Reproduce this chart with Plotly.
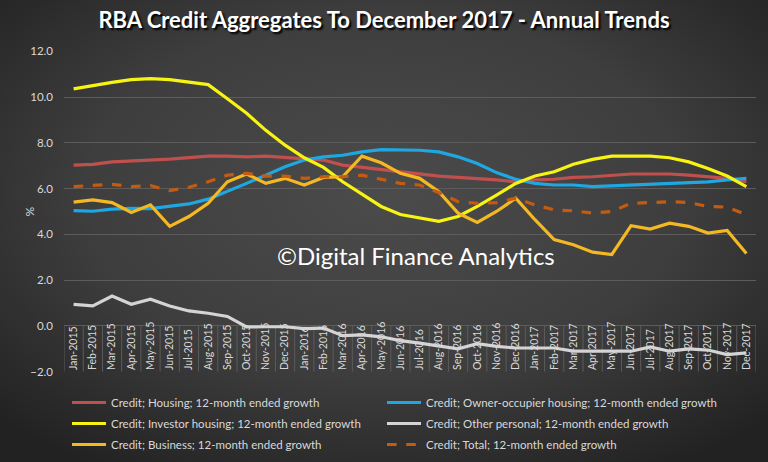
import base64
import plotly.graph_objects as go

# ---- data (12-month ended growth, %) ---------------------------------------
MONTHS = ["Jan", "Feb", "Mar", "Apr", "May", "Jun",
          "Jul", "Aug", "Sep", "Oct", "Nov", "Dec"]
CATEGORIES = [f"{m}-{y}" for y in (2015, 2016, 2017) for m in MONTHS]

HOUSING = [7.03, 7.06, 7.17, 7.20, 7.25, 7.29, 7.36, 7.42, 7.42, 7.39, 7.42, 7.36,
           7.28, 7.25, 7.03, 6.93, 6.84, 6.74, 6.64, 6.55, 6.49, 6.45, 6.38, 6.30,
           6.38, 6.41, 6.49, 6.52, 6.59, 6.64, 6.64, 6.64, 6.59, 6.52, 6.45, 6.30]
OWNER_OCC = [5.04, 5.01, 5.10, 5.14, 5.13, 5.22, 5.33, 5.54, 5.87, 6.23, 6.59, 6.96,
             7.25, 7.39, 7.46, 7.61, 7.71, 7.71, 7.68, 7.61, 7.39, 7.10, 6.70, 6.41,
             6.23, 6.16, 6.16, 6.09, 6.12, 6.16, 6.20, 6.23, 6.26, 6.30, 6.38, 6.45]
INVESTOR = [10.36, 10.51, 10.65, 10.77, 10.81, 10.77, 10.65, 10.55, 9.93, 9.30, 8.55, 7.90,
            7.35, 6.93, 6.30, 5.75, 5.22, 4.87, 4.72, 4.57, 4.78, 5.22, 5.72, 6.23,
            6.55, 6.74, 7.07, 7.28, 7.42, 7.42, 7.42, 7.35, 7.17, 6.88, 6.55, 6.09]
OTHER_PERSONAL = [0.94, 0.87, 1.30, 0.94, 1.16, 0.87, 0.65, 0.55, 0.41, -0.05, -0.04, -0.04,
                  -0.12, -0.10, -0.43, -0.40, -0.48, -0.65, -0.76, -0.87, -1.01, -0.78, -0.90, -0.97,
                  -0.97, -0.97, -1.11, -1.11, -1.11, -1.11, -0.92, -1.11, -1.01, -1.06, -1.26, -1.18]
BUSINESS = [5.41, 5.51, 5.39, 4.96, 5.29, 4.35, 4.78, 5.36, 6.30, 6.64, 6.23, 6.45,
            6.16, 6.49, 6.52, 7.42, 7.13, 6.67, 6.45, 5.87, 4.93, 4.52, 5.00, 5.58,
            4.64, 3.77, 3.55, 3.22, 3.12, 4.38, 4.23, 4.49, 4.35, 4.06, 4.17, 3.16]
TOTAL = [6.09, 6.13, 6.19, 6.09, 6.13, 5.91, 6.06, 6.30, 6.59, 6.67, 6.55, 6.55,
         6.45, 6.52, 6.52, 6.59, 6.41, 6.23, 6.16, 5.83, 5.43, 5.36, 5.39, 5.58,
         5.29, 5.07, 5.03, 4.93, 5.00, 5.36, 5.39, 5.43, 5.39, 5.22, 5.19, 4.86]

Y_TICKS = [-2, 0, 2, 4, 6, 8, 10, 12]

# name, values, colour, dash, legend column
SERIES = [
    ("Credit; Housing; 12-month ended growth", HOUSING, "#c0504d", "solid", "legend"),
    ("Credit; Owner-occupier housing; 12-month ended growth", OWNER_OCC, "#1fa7e1", "solid", "legend2"),
    ("Credit; Investor housing; 12-month ended growth", INVESTOR, "#f7f313", "solid", "legend"),
    ("Credit; Other personal; 12-month ended growth", OTHER_PERSONAL, "#d4d4d4", "solid", "legend2"),
    ("Credit; Business; 12-month ended growth", BUSINESS, "#f4b822", "solid", "legend"),
    ("Credit; Total; 12-month ended growth", TOTAL, "#c55a11", "dash", "legend2"),
]

GRID = "#5c5c5c"
TEXT = "#d9d9d9"
FONT = "Lato, 'Open Sans', sans-serif"

# ---- background vignette ------------------------------------------------------
svg = (
    '<svg xmlns="http://www.w3.org/2000/svg" width="768" height="462">'
    '<defs><radialGradient id="g" cx="50%" cy="42%" r="70%">'
    '<stop offset="0%" stop-color="#4b4b4b"/>'
    '<stop offset="55%" stop-color="#3e3e3e"/>'
    '<stop offset="100%" stop-color="#222222"/>'
    '</radialGradient></defs>'
    '<rect width="768" height="462" fill="url(#g)"/></svg>'
)
bg_src = "data:image/svg+xml;base64," + base64.b64encode(svg.encode()).decode()

W, H = 768, 462
ML, MR, MT, MB = 64, 12, 51, 90
PW, PH = W - ML - MR, H - MT - MB

fig = go.Figure()

for i, (name, vals, color, dash, leg) in enumerate(SERIES):
    fig.add_trace(go.Scatter(
        x=CATEGORIES, y=vals, name=name, mode="lines",
        line=dict(color=color, width=3.2, dash=dash),
        legend=leg, legendgroup=f"g{i}",
    ))

# faint separators around the category labels (between 0 and -2)
for k in range(len(CATEGORIES) + 1):
    fig.add_shape(type="line", xref="x", yref="y",
                  x0=k - 0.5, x1=k - 0.5, y0=Y_TICKS[0], y1=0,
                  line=dict(color=GRID, width=1), layer="below")

fig.add_annotation(text="©Digital Finance Analytics", xref="paper", yref="paper",
                   x=(416 - ML) / PW, y=(MT + PH - 272) / PH, showarrow=False,
                   font=dict(family=FONT, size=24, color="#ffffff"))

# y-axis title
fig.add_annotation(text="%", xref="paper", yref="paper",
                   x=(20 - ML) / PW, y=(MT + PH - 212) / PH, showarrow=False,
                   textangle=-90, font=dict(family=FONT, size=12, color=TEXT))

fig.add_layout_image(source=bg_src, xref="paper", yref="paper",
                     x=-ML / PW, y=1 + MT / PH, sizex=W / PW, sizey=H / PH,
                     xanchor="left", yanchor="top", sizing="stretch", layer="below")

legend_common = dict(
    orientation="v", xanchor="left", yanchor="top",
    xref="container", yref="container",
    font=dict(family=FONT, size=11.5, color=TEXT),
    bgcolor="rgba(0,0,0,0)", tracegroupgap=2, itemwidth=34,
)

fig.update_layout(
    width=W, height=H,
    margin=dict(l=ML, r=MR, t=MT, b=MB, autoexpand=False),
    paper_bgcolor="#3a3a3a", plot_bgcolor="rgba(0,0,0,0)",
    title=dict(text="<b>RBA Credit Aggregates To December 2017 - Annual Trends</b>",
               x=0.5, xref="container", xanchor="center",
               y=1 - 20 / H, yref="container", yanchor="middle",
               font=dict(family=FONT, size=22, color="#ffffff",
                         shadow="2px 2px 2px #000000")),
    xaxis=dict(
        type="category", range=[-0.5, len(CATEGORIES) - 0.5],
        showgrid=False, zeroline=False, showline=False,
        side="top", anchor="free", position=0, automargin=False,
        tickangle=-90, ticks="", ticklabelstandoff=2,
        tickfont=dict(family=FONT, size=10.5, color=TEXT),
    ),
    yaxis=dict(
        range=[Y_TICKS[0] - 0.02, Y_TICKS[-1] + 0.02], tickvals=Y_TICKS, tickformat=".1f",
        showgrid=True, gridcolor=GRID, gridwidth=1,
        zeroline=True, zerolinecolor=GRID, zerolinewidth=1,
        showline=False, ticklabelstandoff=10, automargin=False,
        tickfont=dict(family=FONT, size=11.5, color=TEXT),
    ),
    legend=dict(x=67 / W, y=1 - 388 / H, **legend_common),
    legend2=dict(x=382 / W, y=1 - 388 / H, **legend_common),
    showlegend=True,
)

fig.write_html(
    "out.html",
    config={"displayModeBar": False},
    post_script="document.body.style.margin='0';document.body.style.background='#222';",
)
